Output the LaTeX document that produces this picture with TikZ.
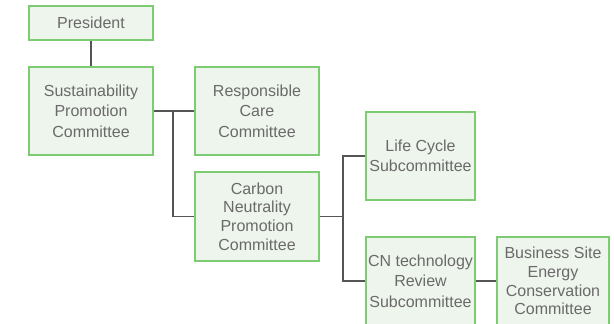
\documentclass[tikz,border=0pt]{standalone}
\usepackage{fontspec}
\setmainfont{Liberation Sans}
\definecolor{boxfill}{HTML}{EEF5EC}
\definecolor{boxline}{HTML}{7DCB73}
\definecolor{txt}{HTML}{6A6A6A}
\definecolor{conn}{HTML}{555555}
\begin{document}
\begin{tikzpicture}[x=1pt,y=-1pt,
  orgbox/.style={draw=boxline,fill=boxfill,line width=1.5pt,rectangle,inner sep=0pt,
    align=center,text=txt,font=\fontsize{16}{20.5}\selectfont},
  tight/.style={font=\fontsize{16}{18.6}\selectfont},
  link/.style={draw=conn,line width=1.4pt}]
\useasboundingbox (0,0) rectangle (614,324);
\node[orgbox,minimum width=124,minimum height=34] (pres) at (91,23) {President};
\node[orgbox,minimum width=124,minimum height=88] (spc) at (91,111) {Sustainability\\Promotion\\Committee};
\node[orgbox,minimum width=124,minimum height=88] (rcc) at (257,111) {Responsible\\Care\\Committee};
\node[orgbox,tight,minimum width=124,minimum height=89] (cnpc) at (257,216.5) {Carbon\\Neutrality\\Promotion\\Committee};
\node[orgbox,minimum width=109,minimum height=88] (lcs) at (420.5,156) {Life Cycle\\Subcommittee};
\node[orgbox,minimum width=109,minimum height=88] (cntr) at (420.5,281) {CN technology\\Review\\Subcommittee};
\node[orgbox,tight,minimum width=112,minimum height=88] (bsec) at (553,281) {Business Site\\Energy\\Conservation\\Committee};
\coordinate (j1) at (173,111);
\coordinate (j2) at (343,216.5);
\draw[link] (pres.south) -- (spc.north);
\draw[link] (spc.east) -- (rcc.west);
\draw[link] (j1) |- (cnpc.west);
\draw[link] (cnpc.east) -- (j2);
\draw[link] (lcs.west) -| (j2) |- (cntr.west);
\draw[link] (cntr.east) -- (bsec.west);
\end{tikzpicture}
\end{document}
